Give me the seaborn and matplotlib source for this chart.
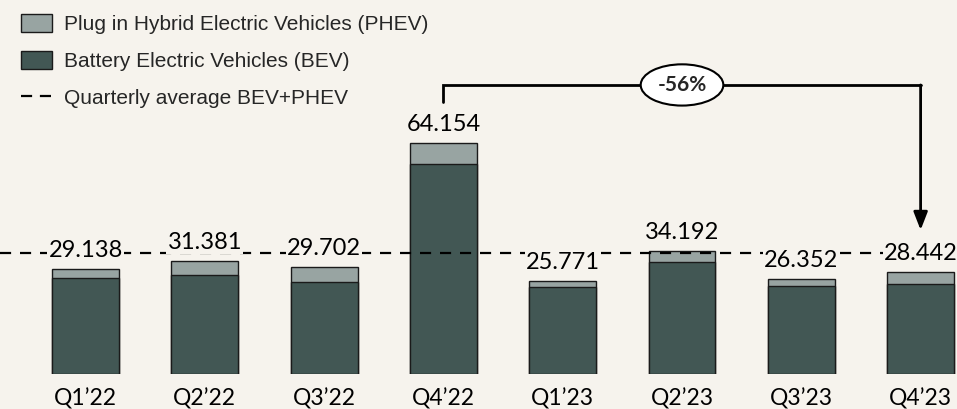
import numpy as np
import matplotlib
matplotlib.use("Agg")
import matplotlib.pyplot as plt
import seaborn as sns
from matplotlib.patches import Patch
from matplotlib.lines import Line2D

# Data
quarters = ["Q1\u201922", "Q2\u201922", "Q3\u201922", "Q4\u201922",
            "Q1\u201923", "Q2\u201923", "Q3\u201923", "Q4\u201923"]
totals = [29.138, 31.381, 29.702, 64.154, 25.771, 34.192, 26.352, 28.442]
bev = [26.8, 27.4, 25.6, 58.3, 24.1, 31.1, 24.4, 25.1]
change_label = "-56%"

bg = "#F6F3ED"
bev_color = "#425754"
phev_color = "#98A4A2"
edge = "#1a1a1a"

sns.set_theme(style="white")
plt.rcParams["font.family"] = ["Lato", "DejaVu Sans"]

fig = plt.figure(figsize=(9.57, 4.09), dpi=100, facecolor=bg)
ax = fig.add_axes([0, 35 / 409, 1, 374 / 409])
ax.set_facecolor(bg)

# stacked bars: total (PHEV on top) then BEV drawn over it
sns.barplot(x=quarters, y=totals, color=phev_color, edgecolor=edge,
            linewidth=1, width=0.56, saturation=1, ax=ax, zorder=2)
sns.barplot(x=quarters, y=bev, color=bev_color, edgecolor=edge,
            linewidth=1, width=0.56, saturation=1, ax=ax, zorder=2)

avg = np.mean(totals)
ax.axhline(avg, color="black", lw=1.6, ls=(0, (5, 4)), zorder=3)

for i, v in enumerate(totals):
    ax.annotate(f"{v:.3f}", (i, v), xytext=(0, 8.5), textcoords="offset points",
                ha="center", va="baseline", fontsize=17, color="black", zorder=5,
                bbox=dict(boxstyle="square,pad=0.05", fc=bg, ec="none"))

# bracket from Q4'22 to Q4'23
y_br = 80.3
ax.plot([3, 3, 7], [75.6, y_br, y_br], color="black", lw=2, zorder=4,
        solid_joinstyle="miter")
ax.annotate("", xy=(7, 40.0), xytext=(7, y_br),
            arrowprops=dict(arrowstyle="-|>,head_length=0.9,head_width=0.35",
                            color="black", lw=2, shrinkA=0, shrinkB=0), zorder=4)
ax.text(5.0, y_br, change_label, ha="center", va="center", fontsize=15,
        fontweight="bold", zorder=6,
        bbox=dict(boxstyle="ellipse,pad=0.22", fc="white", ec="black", lw=1.5))

ax.set_xlim(-0.717, 7.305)
ax.set_ylim(0, 103.9)
ax.set_ylabel("")
ax.set_yticks([])
ax.tick_params(axis="x", length=0, pad=10, labelsize=16.5, colors="black")
sns.despine(ax=ax, left=True, bottom=True)

handles = [Patch(fc=phev_color, ec=edge, lw=1),
           Patch(fc=bev_color, ec=edge, lw=1),
           Line2D([0], [0], color="black", lw=1.6, ls=(0, (5, 3.5)))]
labels = ["Plug in Hybrid Electric Vehicles (PHEV)",
          "Battery Electric Vehicles (BEV)",
          "Quarterly average BEV+PHEV"]
fig.legend(handles, labels, loc="upper left", bbox_to_anchor=(0.008, 1.0),
           frameon=False, prop={"family": "Liberation Sans", "size": 15},
           handlelength=1.5, handleheight=1.0, handletextpad=0.55,
           labelspacing=0.8, borderaxespad=0.25)

fig.savefig("out.png", dpi=100, facecolor=bg)
